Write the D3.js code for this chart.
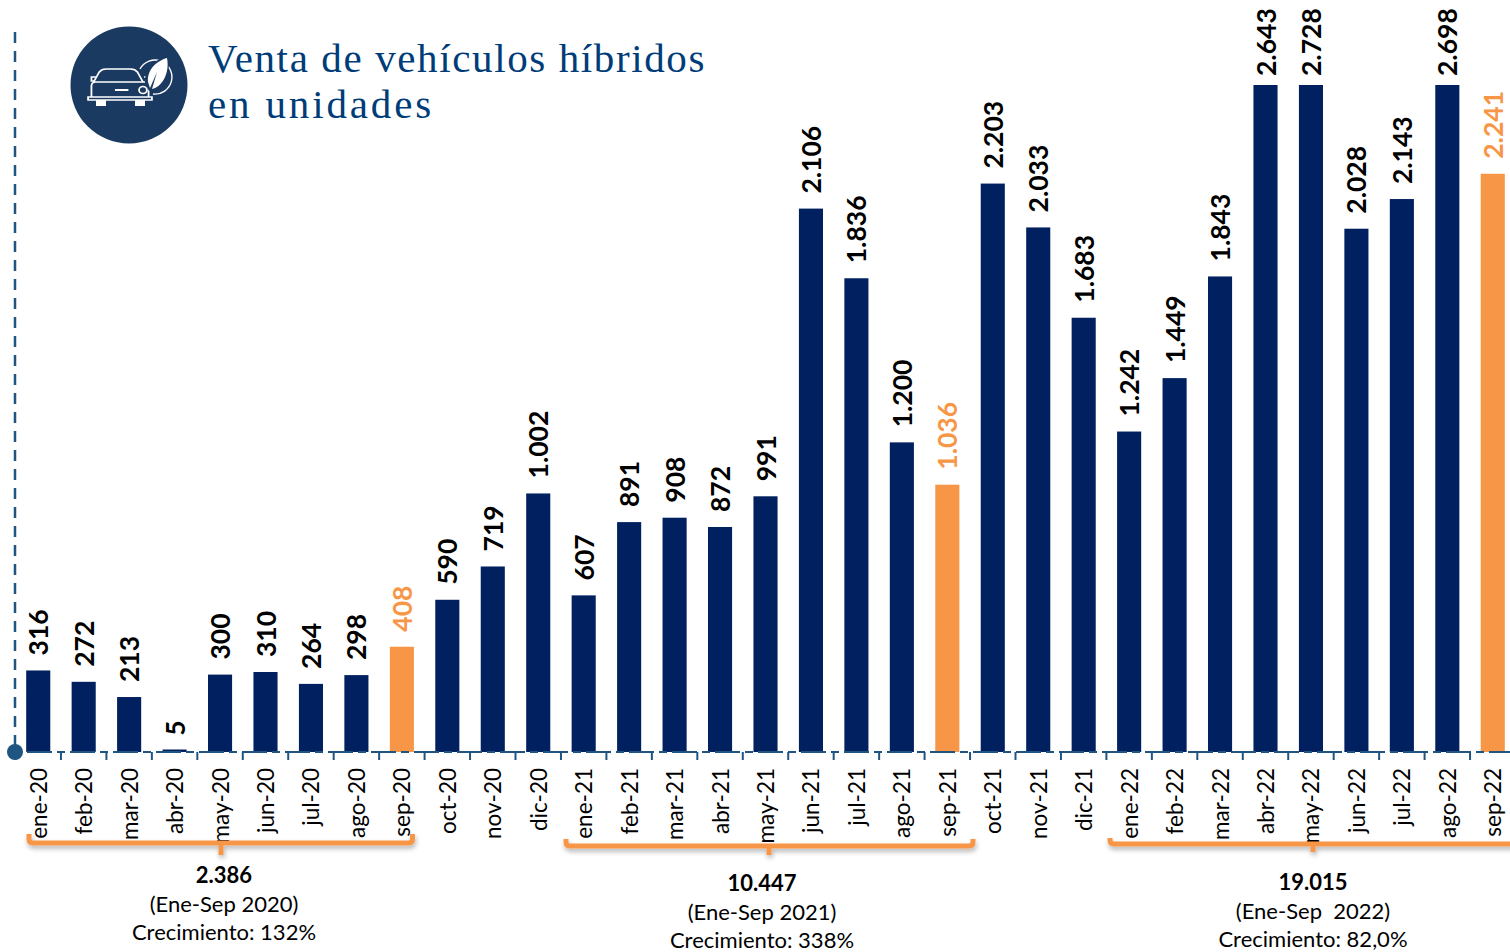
<!DOCTYPE html>
<html>
<head>
<meta charset="utf-8">
<script src="https://cdnjs.cloudflare.com/ajax/libs/d3/7.8.5/d3.min.js"></script>
<style>
html, body { margin: 0; padding: 0; background: #fff; overflow: hidden; }
svg { display: block; }
text { font-family: Lato, "Noto Sans", sans-serif; fill: #000; }
</style>
</head>
<body>
<svg id="chart" width="1510" height="952"></svg>
<script>
const months = ["ene-20", "feb-20", "mar-20", "abr-20", "may-20", "jun-20", "jul-20", "ago-20", "sep-20", "oct-20", "nov-20", "dic-20",
    "ene-21", "feb-21", "mar-21", "abr-21", "may-21", "jun-21", "jul-21", "ago-21", "sep-21", "oct-21", "nov-21", "dic-21",
    "ene-22", "feb-22", "mar-22", "abr-22", "may-22", "jun-22", "jul-22", "ago-22", "sep-22"]
const sales = [316, 272, 213, 5, 300, 310, 264, 298, 408, 590, 719, 1002,
    607, 891, 908, 872, 991, 2106, 1836, 1200, 1036, 2203, 2033, 1683,
    1242, 1449, 1843, 2643, 2728, 2028, 2143, 2698, 2241]
const highlighted = ["sep-20", "sep-21", "sep-22"]
const titleLines = ["Venta de vehículos híbridos", "en unidades"]
const periods = [
    { from: "ene-20", to: "sep-20", total: "2.386", label: "(Ene-Sep 2020)", growth: "Crecimiento: 132%" },
    { from: "ene-21", to: "sep-21", total: "10.447", label: "(Ene-Sep 2021)", growth: "Crecimiento: 338%" },
    { from: "ene-22", to: "sep-22", total: "19.015", label: "(Ene-Sep  2022)", growth: "Crecimiento: 82,0%" }
]

const navy = "#00205f"
const orange = "#f79646"
const axisBlue = "#1f5580"
const fmt = d3.format(",")
const label = v => fmt(v).replace(/,/g, ".")

const svg = d3.select("#chart")

const defs = svg.append("defs")
const shadow = defs.append("filter").attr("id", "shadow")
    .attr("x", "-5%").attr("y", "-50%").attr("width", "110%").attr("height", "220%")
shadow.append("feDropShadow")
    .attr("dx", 1).attr("dy", 3).attr("stdDeviation", 2.5)
    .attr("flood-color", "#000").attr("flood-opacity", 0.3)

// the original chart cuts the tallest bars, so the scale is clamped
const yMax = 2585
const x = d3.scaleBand().domain(months).range([15.5, 1515.5]).paddingInner(0.47).paddingOuter(0.235)
const y = d3.scaleLinear().domain([0, yMax]).range([752, 85]).clamp(true)
const cx = m => x(m) + x.bandwidth() / 2
const step = x.step()

// very small months keep a visible stub, as in the original
const minBar = 2.5
svg.append("g").selectAll("rect")
    .data(months)
    .join("rect")
    .attr("x", d => x(d))
    .attr("width", x.bandwidth())
    .attr("y", (d, i) => Math.min(y(sales[i]), y(0) - minBar))
    .attr("height", (d, i) => Math.max(y(0) - y(sales[i]), minBar))
    .attr("fill", d => highlighted.includes(d) ? orange : navy)

// value labels
svg.append("g").selectAll("text")
    .data(months)
    .join("text")
    .attr("transform", (d, i) => `translate(${cx(d) + 10},${y(sales[i]) - (sales[i] > yMax ? 9 : 15)}) rotate(-90)`)
    .attr("font-size", 26.5)
    .attr("font-weight", 700)
    .style("fill", d => highlighted.includes(d) ? orange : "#000")
    .text((d, i) => label(sales[i]))

// axis: dashed baseline and ticks between the months
const axis = svg.append("g").attr("stroke", axisBlue).attr("stroke-width", 2).attr("fill", "none")
axis.append("line")
    .attr("x1", 27).attr("x2", 1510).attr("y1", y(0)).attr("y2", y(0))
    .attr("stroke-dasharray", "25 5 8 5")
axis.selectAll(".tick")
    .data(months)
    .join("line")
    .attr("class", "tick")
    .attr("x1", d => cx(d) - step / 2)
    .attr("x2", d => cx(d) - step / 2)
    .attr("y1", y(0))
    .attr("y2", y(0) + 8)

axis.append("line")
    .attr("x1", 15).attr("x2", 15).attr("y1", 32).attr("y2", y(0))
    .attr("stroke-width", 2.5)
    .attr("stroke-dasharray", "11 8")
svg.append("circle").attr("cx", 15).attr("cy", y(0)).attr("r", 8).attr("fill", axisBlue)

// month labels
svg.append("g").selectAll("text")
    .data(months)
    .join("text")
    .attr("transform", d => `translate(${cx(d) + 8.5},768) rotate(-90)`)
    .attr("text-anchor", "end")
    .attr("font-size", 22.5)
    .text(d => d)

// period brackets
const bracketX = [[29, 412.5], [566, 973], [1110, 1530]]
const bracketMid = [221, 769, 1313]
const bracketY = [843, 846, 844]
const bracketTop = [834, 839, 838]
const bracketTip = [855, 855, 852]
const textX = [224, 762, 1313]
const textY = [883, 891, 890]
periods.forEach((p, i) => {
    const [x0, x1] = bracketX[i]
    const by = bracketY[i]
    svg.append("path")
        .attr("d", `M${x0},${bracketTop[i]} V${by - 4} Q${x0},${by} ${x0 + 4},${by} H${bracketMid[i]} V${bracketTip[i]} V${by} H${x1 - 4} Q${x1},${by} ${x1},${by - 4} V${bracketTop[i]}`)
        .attr("fill", "none")
        .attr("stroke", orange)
        .attr("stroke-width", 5)
        .attr("filter", "url(#shadow)")
    svg.append("text").attr("x", textX[i]).attr("y", textY[i]).attr("text-anchor", "middle")
        .attr("font-size", 22).attr("font-weight", 700).text(p.total)
    svg.append("text").attr("x", textX[i]).attr("y", textY[i] + 29).attr("text-anchor", "middle")
        .attr("font-size", 22).style("white-space", "pre").text(p.label)
    svg.append("text").attr("x", textX[i]).attr("y", textY[i] + 57).attr("text-anchor", "middle")
        .attr("font-size", 22).text(p.growth)
})

// title
const titleSpacing = [1.62, 2.85]
svg.append("g").selectAll("text")
    .data(titleLines)
    .join("text")
    .attr("x", 208)
    .attr("y", (d, i) => 72 + i * 46)
    .attr("font-size", 41)
    .attr("letter-spacing", (d, i) => titleSpacing[i])
    .style("font-family", "'Liberation Serif', serif")
    .style("fill", "#003c78")
    .text(d => d)

// car icon
const icon = svg.append("g").attr("transform", "translate(129,85)")
icon.append("circle").attr("r", 58.5).attr("fill", "#1b3a61")
const car = icon.append("g").attr("fill", "none").attr("stroke", "#fff").attr("stroke-width", 1.6)
    .attr("transform", "translate(-9,0) scale(1.12,1) translate(10.5,0)")
car.append("path").attr("d", "M-34,-3 L-29,-13 Q-27,-16 -23,-16 H-1 Q3,-16 5,-13 L10,-3")
car.append("path").attr("d", "M-36,12 V1 Q-36,-3 -32,-3 H11 Q15,-3 15,1 V12")
car.append("path").attr("d", "M-39,12 H18 V15 H-39 Z")
car.append("circle").attr("cx", 10).attr("cy", 5).attr("r", 3.5)
car.append("path").attr("d", "M-15,5 H-3").attr("stroke-width", 2)
car.append("path").attr("d", "M-32,-8 H-36 V-4 H-33 M11,-8 H15 V-4 H12")
icon.append("path").attr("fill", "none").attr("stroke", "#fff").attr("stroke-width", 1.4)
    .attr("d", "M11,-16 A17,17 0 1 1 24,9")
icon.append("path").attr("fill", "#fff").attr("d", "M-33,15 H-23 V21 H-33 Z M6,15 H16 V21 H6 Z")
icon.append("path").attr("fill", "#1b3a61").attr("d", "M39,-29 C26,-26 15,-16 16,-2 L20,6 C34,3 43,-12 39,-29 Z")
icon.append("path").attr("fill", "#fff").attr("d", "M38,-27 C28,-24 18,-16 19,-3 L21,3 L28,-13 L23,4 C33,2 41,-12 38,-27 Z")
</script>
</body>
</html>
